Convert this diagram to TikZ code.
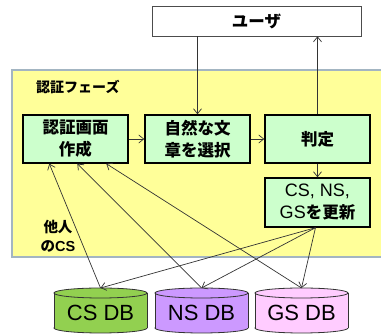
\documentclass[tikz,border=0pt]{standalone}
\usepackage{fontspec}
\setmainfont{Noto Sans CJK JP}
\newfontfamily\lat{Liberation Sans}
\usetikzlibrary{arrows.meta,calc}
\definecolor{phase}{HTML}{FFFF99}
\definecolor{phaseborder}{HTML}{A3B5C2}
\definecolor{boxgreen}{HTML}{CCFFCC}
\definecolor{csgreen}{HTML}{92D050}
\definecolor{nspurple}{HTML}{CC99FF}
\definecolor{gspink}{HTML}{FFCCFF}
\definecolor{linegray}{HTML}{333333}
\tikzset{
  procbox/.style={draw=black, line width=1.4pt, fill=boxgreen, minimum width=105pt, minimum height=48pt, inner sep=0pt, align=center, font=\fontsize{16.5}{22}\selectfont\bfseries},
  userbox/.style={draw=black!70, line width=0.6pt, fill=white, minimum width=209pt, minimum height=30pt, inner sep=0pt, font=\fontsize{16.5}{20}\selectfont\bfseries},
  conn/.style={draw=linegray, line width=0.7pt, -{Straight Barb[length=5pt,width=8pt]}},
  dbtext/.style={font=\lat\fontsize{22}{24}\selectfont, inner sep=0pt},
}
\begin{document}
\begin{tikzpicture}[x=1pt,y=-1pt]
\useasboundingbox (0,0) rectangle (381,336);
% phase region
\fill[phase] (12,70) rectangle (381,257);
\draw[phaseborder, line width=1.6pt] (381,70) -- (12,70) -- (12,257) -- (381,257);
\node[anchor=west, inner sep=0pt, font=\fontsize{14}{16}\selectfont\bfseries] (phaselabel) at (36,87) {認証フェーズ};
% user
\node[userbox] (user) at (256.5,21) {ユーザ};
% process boxes
\node[procbox] (box1) at (75.5,139) {認証画面\\作成};
\node[procbox] (box2) at (197.5,139) {自然な文\\章を選択};
\node[procbox] (box3) at (317.5,139) {判定};
\node[procbox, minimum height=49pt] (box4) at (317.5,202.5) {{\lat\mdseries\fontsize{18}{22}\selectfont CS, NS,}\\{\lat\mdseries\fontsize{18}{22}\selectfont GS}を更新};
\node[align=center, inner sep=0pt, font=\fontsize{14.5}{19}\selectfont\bfseries] (other) at (58,236) {他人\\の{\lat CS}};
% databases
\foreach \nm/\cx/\col/\txt in {cs/100.5/csgreen/CS DB, ns/201.5/nspurple/NS DB, gs/301.5/gspink/GS DB}{
  \filldraw[fill=\col, draw=black!80, line width=0.8pt] (\cx,328) ellipse (46.5 and 5);
  \fill[\col] (\cx-46.5,293) rectangle (\cx+46.5,328);
  \draw[black!80, line width=0.8pt] (\cx-46.5,293) -- (\cx-46.5,328) (\cx+46.5,293) -- (\cx+46.5,328);
  \filldraw[fill=\col, draw=black!80, line width=0.8pt] (\cx,293) ellipse (46.5 and 5);
  \coordinate (\nm-top) at (\cx,288);
  \node[dbtext] (\nm-db) at (\cx,313) {\txt};
}
% connectors
\draw[conn] (box2.north |- user.south) -- (box2.north);
\draw[conn] (box3.north) -- (box3.north |- user.south);
\draw[conn] (box1) -- (box2);
\draw[conn] (box2) -- (box3);
\draw[conn] (box3) -- (box4);
\coordinate (b1a) at ([xshift=27pt]box1.south west);
\coordinate (b1b) at ([xshift=55pt]box1.south west);
\coordinate (b1c) at ([xshift=84pt]box1.south west);
\coordinate (b4s) at ([xshift=-2pt]box4.south);
\draw[conn] (cs-top) -- (b1a);
\draw[conn] (ns-top) -- (b1b);
\draw[conn] (gs-top) -- (b1c);
\draw[conn] (b4s) -- (cs-top);
\draw[conn] (b4s) -- (ns-top);
\draw[conn] (b4s) -- (gs-top);
\end{tikzpicture}
\end{document}
